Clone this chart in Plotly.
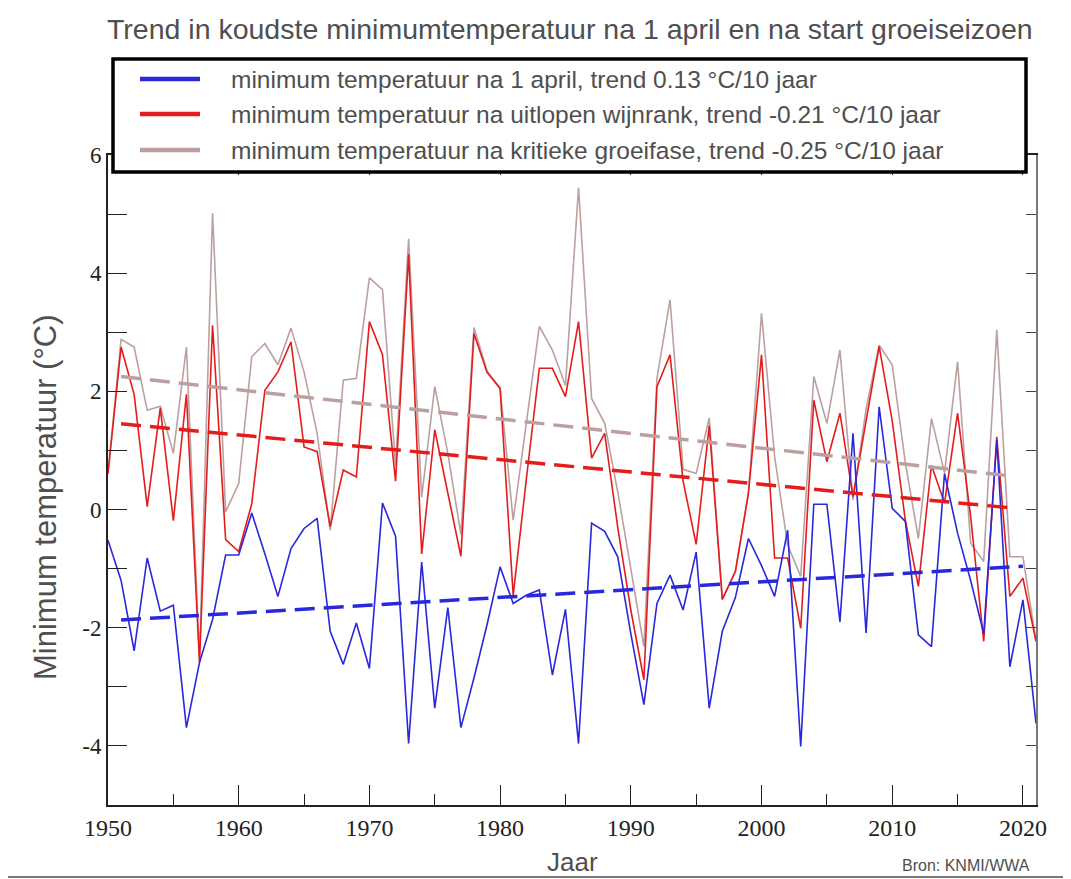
import plotly.graph_objects as go

years = list(range(1950, 2022))

min_1april = [
    -0.52, -1.20, -2.39, -0.82, -1.72, -1.62, -3.69, -2.59, -1.86, -0.77,
    -0.77, -0.06, -0.75, -1.47, -0.66, -0.32, -0.15, -2.06, -2.62, -1.92,
    -2.69, 0.11, -0.45, -3.96, -0.89, -3.36, -1.66, -3.69, -2.85, -1.95,
    -0.97, -1.59, -1.45, -1.36, -2.80, -1.69, -3.96, -0.23, -0.37, -0.80,
    -2.10, -3.30, -1.59, -1.11, -1.70, -0.72, -3.36, -2.06, -1.49, -0.49,
    -0.95, -1.47, -0.35, -4.01, 0.09, 0.09, -1.90, 1.29, -2.09, 1.74,
    0.02, -0.20, -2.12, -2.32, 0.61, -0.40, -1.20, -2.10, 1.18, -2.66,
    -1.53, -3.62,
]

min_wijnrank = [
    0.61, 2.75, 1.95, 0.05, 1.72, -0.19, 1.95, -2.59, 3.12, -0.51,
    -0.71, 0.10, 2.02, 2.33, 2.84, 1.06, 0.98, -0.29, 0.67, 0.55,
    3.18, 2.62, 0.48, 4.32, -0.75, 1.35, 0.28, -0.79, 2.98, 2.32,
    2.05, -1.45, 0.50, 2.39, 2.39, 1.91, 3.18, 0.87, 1.29, -0.30,
    -1.70, -2.88, 2.08, 2.62, 0.48, -0.59, 1.42, -1.52, -1.05, 0.28,
    2.62, -0.82, -0.82, -2.01, 1.85, 0.81, 1.63, 0.22, 1.50, 2.76,
    1.50, -0.18, -1.30, 0.75, 0.11, 1.63, -0.12, -2.23, 1.23, -1.47,
    -1.16, -2.23,
]

min_groeifase = [
    0.61, 2.88, 2.75, 1.68, 1.75, 0.95, 2.75, -2.52, 5.02, -0.04,
    0.44, 2.59, 2.81, 2.45, 3.07, 2.33, 1.29, -0.35, 2.19, 2.22,
    3.92, 3.72, 0.75, 4.58, 0.21, 2.08, 0.95, -0.42, 3.08, 2.35,
    2.05, -0.18, 1.45, 3.10, 2.70, 2.10, 5.45, 1.88, 1.46, 0.30,
    -1.00, -2.32, 2.22, 3.55, 0.68, 0.61, 1.55, -1.52, -1.05, 0.28,
    3.32, 0.90, -0.60, -1.13, 2.25, 1.46, 2.70, 0.16, 1.70, 2.78,
    2.45, 0.80, -0.49, 1.54, 0.62, 2.50, -0.57, -0.88, 3.04, -0.80,
    -0.80, -2.23,
]

trend_years_blue = [1951, 2020]
trend_blue = [-1.87, -0.96]
trend_years_red = [1951, 2019]
trend_red = [1.45, 0.03]
trend_years_gray = [1951, 2019]
trend_gray = [2.25, 0.57]

legend_labels = [
    "minimum temperatuur na 1 april, trend 0.13 °C/10 jaar",
    "minimum temperatuur na uitlopen wijnrank, trend -0.21 °C/10 jaar",
    "minimum temperatuur na kritieke groeifase, trend -0.25 °C/10 jaar",
]

x_ticks = [1950, 1960, 1970, 1980, 1990, 2000, 2010, 2020]
y_tickvals = [-5, -4, -3, -2, -1, 0, 1, 2, 3, 4, 5, 6]
y_ticktext = ["", "-4", "", "-2", "", "0", "", "2", "", "4", "", "6"]

BLUE = "rgb(40,40,220)"
RED = "rgb(228,28,28)"
GRAY = "rgb(188,160,160)"
TEXT = "#4f4f4f"

fig = go.Figure()
fig.add_trace(go.Scatter(x=years, y=min_groeifase, mode="lines",
                         line=dict(color=GRAY, width=1.6), showlegend=False))
fig.add_trace(go.Scatter(x=years, y=min_wijnrank, mode="lines",
                         line=dict(color=RED, width=1.6), showlegend=False))
fig.add_trace(go.Scatter(x=years, y=min_1april, mode="lines",
                         line=dict(color=BLUE, width=1.6), showlegend=False))
fig.add_trace(go.Scatter(x=trend_years_gray, y=trend_gray, mode="lines",
                         line=dict(color=GRAY, width=3.5, dash="20px,9px"), showlegend=False))
fig.add_trace(go.Scatter(x=trend_years_red, y=trend_red, mode="lines",
                         line=dict(color=RED, width=3.5, dash="20px,9px"), showlegend=False))
fig.add_trace(go.Scatter(x=trend_years_blue, y=trend_blue, mode="lines",
                         line=dict(color=BLUE, width=3.5, dash="20px,9px"), showlegend=False))
fig.add_trace(go.Scatter(x=[1950], y=[0], mode="lines", yaxis="y2",
                         line=dict(width=0), showlegend=False, hoverinfo="skip"))

# the page body adds an 8px offset; work in page pixels and subtract it
OFF = 8
W, H = 1071, 879
plot_left, plot_right, plot_top, plot_bottom = 108, 1036, 155, 805
L = plot_left - OFF
R = W - (plot_right - OFF)
T = plot_top - OFF
B = H - (plot_bottom - OFF)
pw = W - L - R
ph = H - T - B

def px(xp):
    return (xp - OFF - L) / pw

def py(yp):
    return (H - B - (yp - OFF)) / ph

shapes = []
annotations = []

# legend box
shapes.append(dict(type="rect", xref="paper", yref="paper",
                   x0=px(113), x1=px(1026), y0=py(172), y1=py(59),
                   fillcolor="white", line=dict(color="black", width=3.5), layer="above"))
leg_colors = [BLUE, RED, GRAY]
leg_rows = [79, 114, 150]
for lab, col, ry in zip(legend_labels, leg_colors, leg_rows):
    shapes.append(dict(type="line", xref="paper", yref="paper",
                       x0=px(140), x1=px(200), y0=py(ry), y1=py(ry),
                       line=dict(color=col, width=4.5), layer="above"))
    annotations.append(dict(text=lab, xref="paper", yref="paper", x=px(229), y=py(ry),
                            xanchor="left", yanchor="middle", showarrow=False,
                            font=dict(family="Liberation Sans, Arial", size=24.5, color=TEXT)))

# title
annotations.append(dict(text="Trend in koudste minimumtemperatuur na 1 april en na start groeiseizoen",
                        xref="paper", yref="paper", x=px(570), y=py(29), xanchor="center", yanchor="middle",
                        showarrow=False,
                        font=dict(family="Liberation Sans, Arial", size=28.5, color=TEXT)))
# y title
annotations.append(dict(text="Minimum temperatuur (°C)", xref="paper", yref="paper",
                        x=px(45), y=py(497), xanchor="center", yanchor="middle", textangle=-90,
                        showarrow=False, font=dict(family="Liberation Sans, Arial", size=31, color=TEXT)))
# x title
annotations.append(dict(text="Jaar", xref="paper", yref="paper", x=px(572), y=py(845),
                        xanchor="center", yanchor="top", showarrow=False,
                        font=dict(family="Liberation Sans, Arial", size=26, color=TEXT)))
annotations.append(dict(text="Bron: KNMI/WWA", xref="paper", yref="paper", x=px(1032), y=py(855),
                        xanchor="right", yanchor="top", showarrow=False,
                        font=dict(family="Liberation Sans, Arial", size=16, color=TEXT)))

# screenshot frame line at the bottom
shapes.append(dict(type="line", xref="paper", yref="paper", x0=px(0), x1=px(1065), y0=py(877), y1=py(877),
                   line=dict(color="#777777", width=2), layer="above"))

fig.update_layout(
    width=W, height=H,
    margin=dict(l=L, r=R, t=T, b=B),
    paper_bgcolor="white", plot_bgcolor="white",
    showlegend=False,
    shapes=shapes, annotations=annotations,
    xaxis=dict(range=[1950, 2021], tickvals=x_ticks, ticks="inside", ticklen=20, tickwidth=1.2,
               tickcolor="#222", showline=True, linecolor="#222", linewidth=2, mirror="ticks",
               showgrid=False, zeroline=False,
               minor=dict(dtick=5, tick0=1950, ticks="inside", ticklen=11, tickcolor="#222", tickwidth=1.2),
               tickfont=dict(family="Liberation Serif, Times New Roman", size=24, color="#222")),
    yaxis=dict(range=[-5, 6], tickvals=y_tickvals, ticktext=y_ticktext, ticks="inside", ticklen=19,
               tickwidth=1.2, tickcolor="#222", showline=True, linecolor="#222", linewidth=2,
               showgrid=False, zeroline=False,
               tickfont=dict(family="Liberation Serif, Times New Roman", size=23, color="#222")),
    yaxis2=dict(range=[-5, 6], overlaying="y", side="right", tickvals=y_tickvals,
                showticklabels=False, ticks="inside", ticklen=10, tickcolor="#444", tickwidth=1.2,
                showline=True, linecolor="#777", linewidth=1.5, showgrid=False, zeroline=False),
)

fig.write_html("out.html")
